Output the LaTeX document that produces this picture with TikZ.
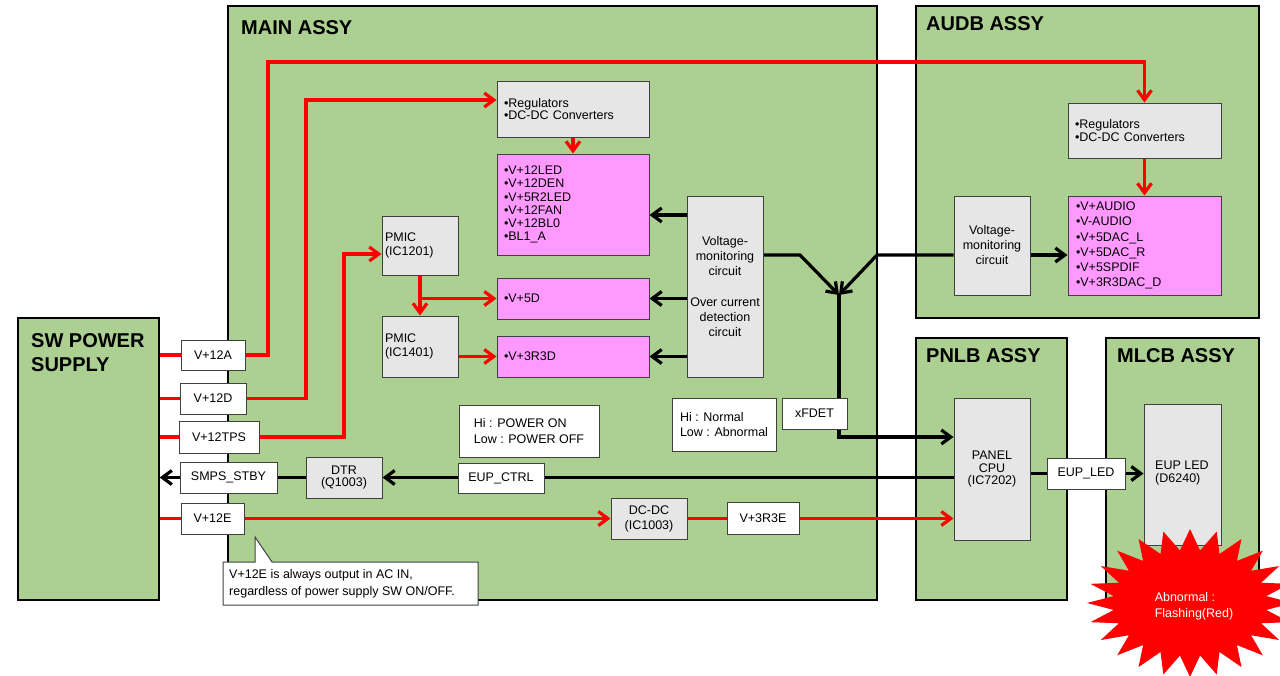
\documentclass[tikz,border=0pt]{standalone}
\usepackage{fontspec}
\setmainfont{Liberation Sans}
\usetikzlibrary{arrows.meta,calc}
\definecolor{grn}{RGB}{171,208,145}
\definecolor{gry}{RGB}{230,230,230}
\definecolor{pnk}{RGB}{255,153,255}
\definecolor{rd}{RGB}{255,0,0}
\pgfdeclarelayer{back}\pgfdeclarelayer{mid}\pgfsetlayers{back,mid,main}
\begin{document}
\begin{tikzpicture}[x=1pt,y=-1pt,
  every node/.style={font=\fontsize{12.5}{13.5}\selectfont, inner sep=0pt},
  assy/.style={draw=black, line width=1.3pt, fill=grn},
  ttl/.style={font=\fontsize{20}{24}\selectfont\bfseries, anchor=north west, align=left},
  gbox/.style={draw=black!75, line width=1pt, fill=gry, align=center},
  pbox/.style={draw=black!75, line width=1pt, fill=pnk, align=left},
  wbox/.style={draw=black!75, line width=1pt, fill=white, align=center},
  rl/.style={draw=rd, line width=3.2pt},
  bl/.style={draw=black, line width=3.2pt},
  tip/.style={-{Straight Barb[length=9.5pt,width=14pt]}},
]
\useasboundingbox (0,0) rectangle (1280,675);

% ---------- assemblies ----------
\begin{pgfonlayer}{back}
\fill[white] (0,0) rectangle (1280,675);
\node[assy, minimum width=141pt, minimum height=282pt] (sw) at (88.5,459) {};
\node[assy, minimum width=649pt, minimum height=594pt] (main) at (552.5,303) {};
\node[assy, minimum width=343pt, minimum height=312pt] (audb) at (1087.5,162) {};
\node[assy, minimum width=151pt, minimum height=262pt] (pnlb) at (991.5,469) {};
\node[assy, minimum width=153pt, minimum height=262pt] (mlcb) at (1182.5,469) {};
\node[ttl] (swt) at (31,333) {SW POWER\\SUPPLY};
\node[ttl] (maint) at (241,20) {MAIN ASSY};
\node[ttl] (audbt) at (926,16) {AUDB ASSY};
\node[ttl] (pnlbt) at (926,348) {PNLB ASSY};
\node[ttl] (mlcbt) at (1117,348) {MLCB ASSY};
\end{pgfonlayer}

% ---------- MAIN inner blocks ----------
\node[gbox, minimum width=152pt, minimum height=56pt, text width=138pt, align=left,
  font=\fontsize{12.5}{12.8}\selectfont] (mreg) at (573,109) {•Regulators\\•DC-DC Converters};
\node[pbox, minimum width=152pt, minimum height=101pt, text width=138pt,
  font=\fontsize{12.5}{13.1}\selectfont] (mpink) at (573,204.5)
  {•V+12LED\\•V+12DEN\\•V+5R2LED\\•V+12FAN\\•V+12BL0\\•BL1\_A};
\node[pbox, minimum width=152pt, minimum height=41pt, text width=138pt] (v5d) at (573,298.5) {•V+5D};
\node[pbox, minimum width=152pt, minimum height=41pt, text width=138pt] (v3r3d) at (573,356.5) {•V+3R3D};
\node[gbox, minimum width=76pt, minimum height=59pt, text width=70pt, align=left] (pmic1) at (420,245.5) {PMIC\\(IC1201)};
\node[gbox, minimum width=76pt, minimum height=61pt, text width=70pt, align=left] (pmic2) at (420,346.5) {PMIC\\(IC1401)};
\node[gbox, minimum width=76pt, minimum height=181pt, font=\fontsize{12.5}{15.2}\selectfont] (vm) at (725,286.5)
  {Voltage-\\monitoring\\circuit\\[15.2pt]Over current\\detection\\circuit};

% ---------- AUDB inner blocks ----------
\node[gbox, minimum width=153pt, minimum height=55pt, text width=139pt, align=left,
  font=\fontsize{12.5}{12.8}\selectfont] (areg) at (1144.5,130.5) {•Regulators\\•DC-DC Converters};
\node[pbox, minimum width=153pt, minimum height=99pt, text width=137pt,
  font=\fontsize{12.5}{15.1}\selectfont] (apink) at (1144.5,245.5)
  {•V+AUDIO\\•V-AUDIO\\•V+5DAC\_L\\•V+5DAC\_R\\•V+5SPDIF\\•V+3R3DAC\_D};
\node[gbox, minimum width=76pt, minimum height=99pt, font=\fontsize{12.5}{15}\selectfont] (avm) at (992,245.5)
  {Voltage-\\monitoring\\circuit};

% ---------- PNLB / MLCB ----------
\node[gbox, minimum width=76pt, minimum height=142pt, font=\fontsize{12.5}{12.6}\selectfont] (cpu) at (992,469)
  {PANEL\\CPU\\(IC7202)};
\node[gbox, minimum width=77pt, minimum height=141pt] (eupled) at (1182.5,474.5) {};
\node[align=left, anchor=west, font=\fontsize{12.5}{13}\selectfont] (eupledt) at (1155,473) {EUP LED\\(D6240)};

% ---------- labels ----------
\node[wbox, minimum width=64pt, minimum height=30pt] (l12a) at (213,355) {V+12A};
\node[wbox, minimum width=66pt, minimum height=31pt] (l12d) at (213,398.5) {V+12D};
\node[wbox, minimum width=80pt, minimum height=32pt] (l12tps) at (219,437) {V+12TPS};
\node[wbox, minimum width=97pt, minimum height=31pt] (lsmps) at (228.5,477.5) {SMPS\_STBY};
\node[wbox, minimum width=63pt, minimum height=31pt] (l12e) at (212.5,518.5) {V+12E};
\node[gbox, minimum width=76pt, minimum height=41pt, font=\fontsize{12.5}{12.2}\selectfont] (dtr) at (344,477.5) {DTR\\(Q1003)};
\node[wbox, minimum width=140pt, minimum height=52pt, align=left, font=\fontsize{12.5}{16}\selectfont] (hipow) at (529,431)
  {Hi : POWER ON\\Low : POWER OFF};
\node[wbox, minimum width=86pt, minimum height=30pt] (eupctrl) at (501,478) {EUP\_CTRL};
\node[wbox, minimum width=104pt, minimum height=53pt, align=left, font=\fontsize{12.5}{15.5}\selectfont] (hinorm) at (724,424.5)
  {Hi : Normal\\Low : Abnormal};
\node[wbox, minimum width=65pt, minimum height=31pt] (xfdet) at (814.5,413.5) {xFDET};
\node[gbox, minimum width=76pt, minimum height=41pt, font=\fontsize{12.5}{15}\selectfont] (dcdc) at (649,518.5) {DC-DC\\(IC1003)};
\node[wbox, minimum width=72pt, minimum height=32pt] (v3r3e) at (763,518.5) {V+3R3E};
\node[wbox, minimum width=78pt, minimum height=31pt] (eupledl) at (1086,473.5) {EUP\_LED};

\coordinate (jl) at (800,255);
\coordinate (j) at (839,295);
\coordinate (jr) at (877,255);

% ---------- connectors ----------
\begin{pgfonlayer}{mid}
% red supply lines
\draw[rl] (l12a.west -| sw.east) -- (l12a.west);
\draw[rl,tip] (l12a.east) -| (268,62) -| (areg.north);
\draw[rl] (l12d.west -| sw.east) -- (l12d.west);
\draw[rl,tip] (l12d.east) -| (306,100) -- ($(mreg.west)+(0,-9)$);
\draw[rl] (l12tps.west -| sw.east) -- (l12tps.west);
\draw[rl,tip] (l12tps.east) -| (344,254) -- ($(pmic1.west)+(0,8.5)$);
\draw[rl,tip] (mreg.south) -- (mpink.north);
\draw[rl,tip] (pmic1.south) -- (pmic2.north);
\draw[rl,tip] (pmic1.south |- v5d.west) -- (v5d.west);
\draw[rl,tip] (v3r3d.west -| pmic2.east) -- (v3r3d.west);
\draw[rl,tip] (areg.south) -- (apink.north);
\draw[rl] (l12e.west -| sw.east) -- (l12e.west);
\draw[rl,tip] (l12e.east) -- (dcdc.west);
\draw[rl] (dcdc.east) -- (v3r3e.west);
\draw[rl,tip] (v3r3e.east) -- (v3r3e.east -| cpu.west);
% black monitoring lines
\draw[bl,tip] ($(vm.west)+(0,-71.5)$) -- ($(mpink.east)+(0,10.5)$);
\draw[bl,tip] (vm.west |- v5d.east) -- (v5d.east);
\draw[bl,tip] (vm.west |- v3r3d.east) -- (v3r3d.east);
\draw[bl,tip] ($(vm.east)+(0,-31.5)$) -- (jl) -- (j);
\draw[bl,tip] (avm.west |- jr) -- (jr) -- (j);
\draw[bl,tip] (avm.east |- jr) -- (apink.west |- jr);
\draw[bl,tip] (j) |- ($(cpu.west)+(0,-32)$);
\draw[bl,tip] (cpu.west |- dtr.east) -- (dtr.east);
\draw[bl] (dtr.west) -- (lsmps.east);
\draw[bl,tip] (lsmps.west) -- (lsmps.west -| sw.east);
\draw[bl] (cpu.east |- eupledl.west) -- (eupledl.west);
\draw[bl,tip] (eupledl.east) -- (eupledl.east -| eupled.west);
\end{pgfonlayer}

% ---------- callout ----------
\draw[draw=black!75, line width=1pt, fill=white]
  (223,562) -- (255,562) -- (255,537) -- (272,562) -- (478,562) -- (478,605) -- (223,605) -- cycle;
\node[anchor=west, align=left, font=\fontsize{12.5}{16.5}\selectfont] (note) at (229,584)
  {V+12E is always output in AC IN,\\regardless of power supply SW ON/OFF.};

% ---------- starburst ----------
\fill[rd] (1293,603) \foreach \k in {1,...,47} {
  -- ({1190+(90+13*cos(\k*180))*cos(\k*7.5)}, {603+(63.5+10.5*cos(\k*180))*sin(\k*7.5)}) } -- cycle;
\node[text=white, align=left, font=\fontsize{12.5}{16}\selectfont] (abn) at (1194,606) {Abnormal :\\Flashing(Red)};
\end{tikzpicture}
\end{document}
